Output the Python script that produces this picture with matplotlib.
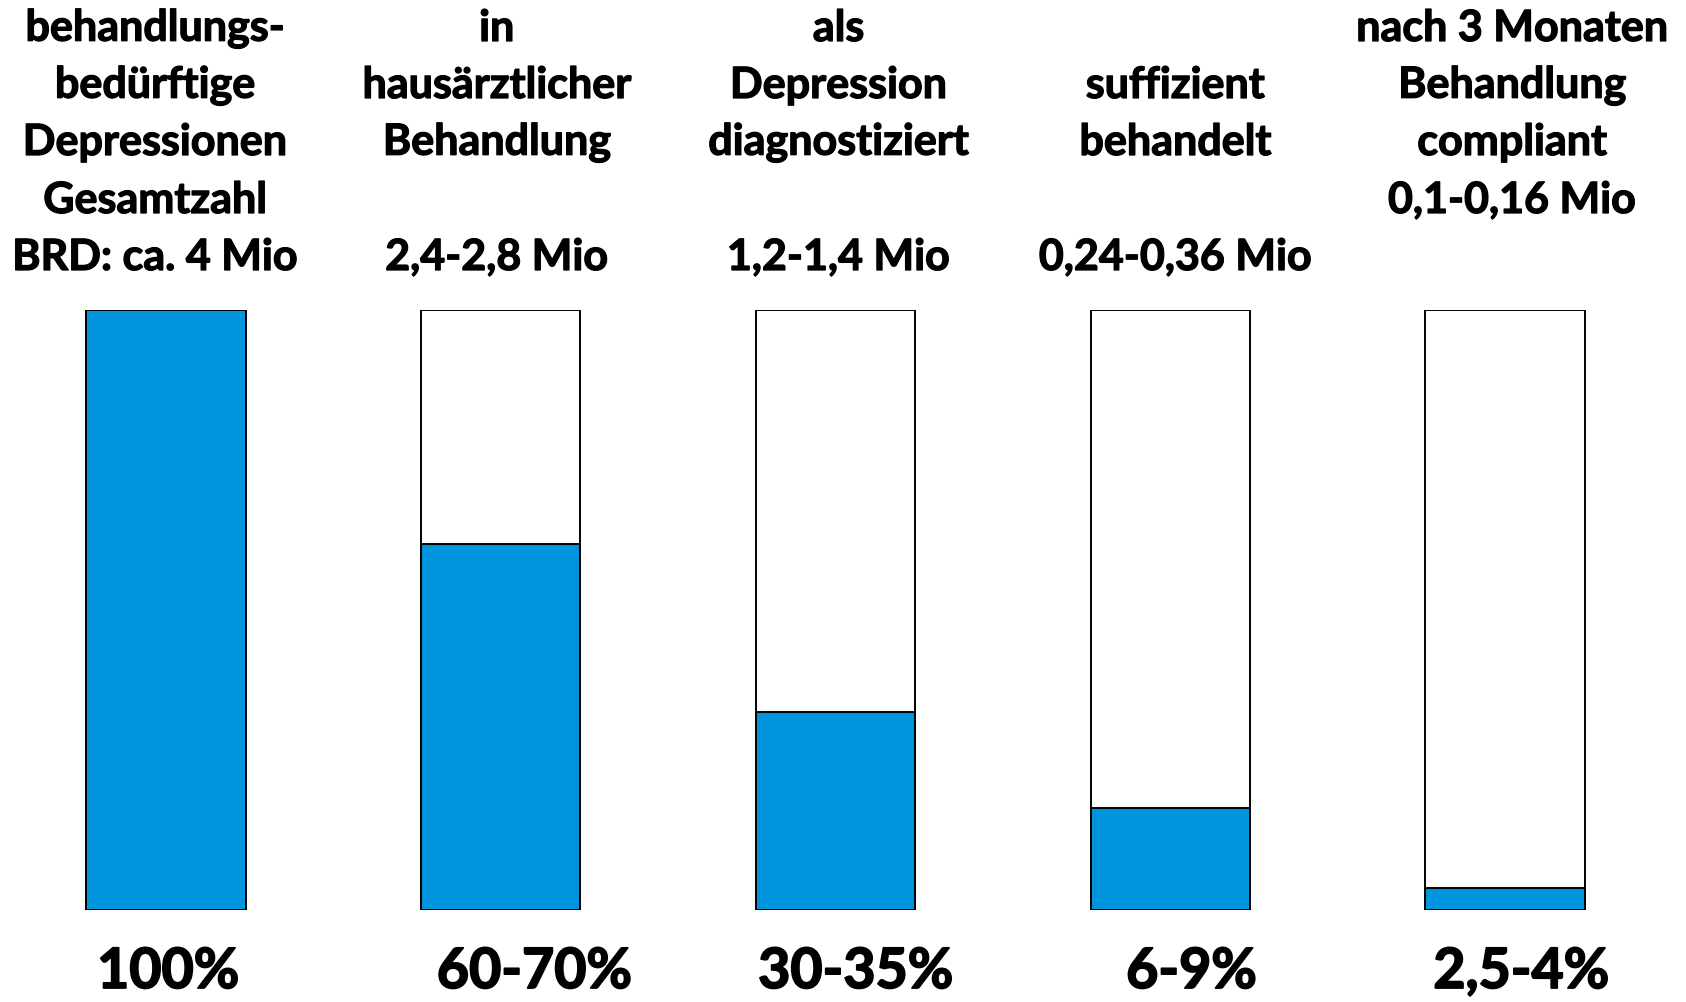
import matplotlib
matplotlib.use("Agg")
import matplotlib.pyplot as plt
import matplotlib.transforms as mtransforms
import matplotlib.patheffects as pe

# data
header_lines = [
    ["behandlungs-", "bedürftige", "Depressionen", "Gesamtzahl", "BRD: ca. 4 Mio"],
    ["in", "hausärztlicher", "Behandlung", "", "2,4-2,8 Mio"],
    ["als", "Depression", "diagnostiziert", "", "1,2-1,4 Mio"],
    ["", "suffizient", "behandelt", "", "0,24-0,36 Mio"],
    ["nach 3 Monaten", "Behandlung", "compliant", "0,1-0,16 Mio", ""],
]
percent_labels = ["100%", "60-70%", "30-35%", "6-9%", "2,5-4%"]
fill_share = [100, 61, 33, 17, 3.7]   # drawn height of the blue part, % of bar

# layout
W, H = 1686, 1003
step = 334.75
header_dx = [-0.033, -0.012, 0.009, 0.015, 0.021]
pct_dx = [0.006, 0.10, 0.06, 0.063, 0.048]
row_y = [29, 86, 143, 201, 258]
blue = "#0094DC"
font = "Lato"
bolder = [pe.withStroke(linewidth=0.9, foreground="black")]

fig = plt.figure(figsize=(W / 100, H / 100), dpi=100)
ax = fig.add_axes([0, 92 / H, 1, 600 / H])
x = list(range(len(fill_share)))

ax.bar(x, [100] * len(x), width=0.475, color="white", edgecolor="black", linewidth=1.4)
ax.bar(x, fill_share, width=0.475, color=blue, edgecolor="black", linewidth=1.4)

ax.set_xlim(-166 / step, (W - 166) / step)
ax.set_ylim(0, 100)
ax.axis("off")

trans = mtransforms.blended_transform_factory(ax.transData, fig.transFigure)
for i, lines in enumerate(header_lines):
    for j, line in enumerate(lines):
        if line:
            ax.text(i + header_dx[i], 1 - row_y[j] / H, line, transform=trans,
                    ha="center", va="center", fontsize=31, fontweight="bold",
                    family=font, clip_on=False, path_effects=bolder)

for i, lab in enumerate(percent_labels):
    ax.text(i + pct_dx[i], 1 - 973 / H, lab, transform=trans,
            ha="center", va="center", fontsize=40, fontweight="bold",
            family=font, clip_on=False,
            path_effects=[pe.withStroke(linewidth=1.3, foreground="black")])

fig.savefig("out.png", dpi=100)
